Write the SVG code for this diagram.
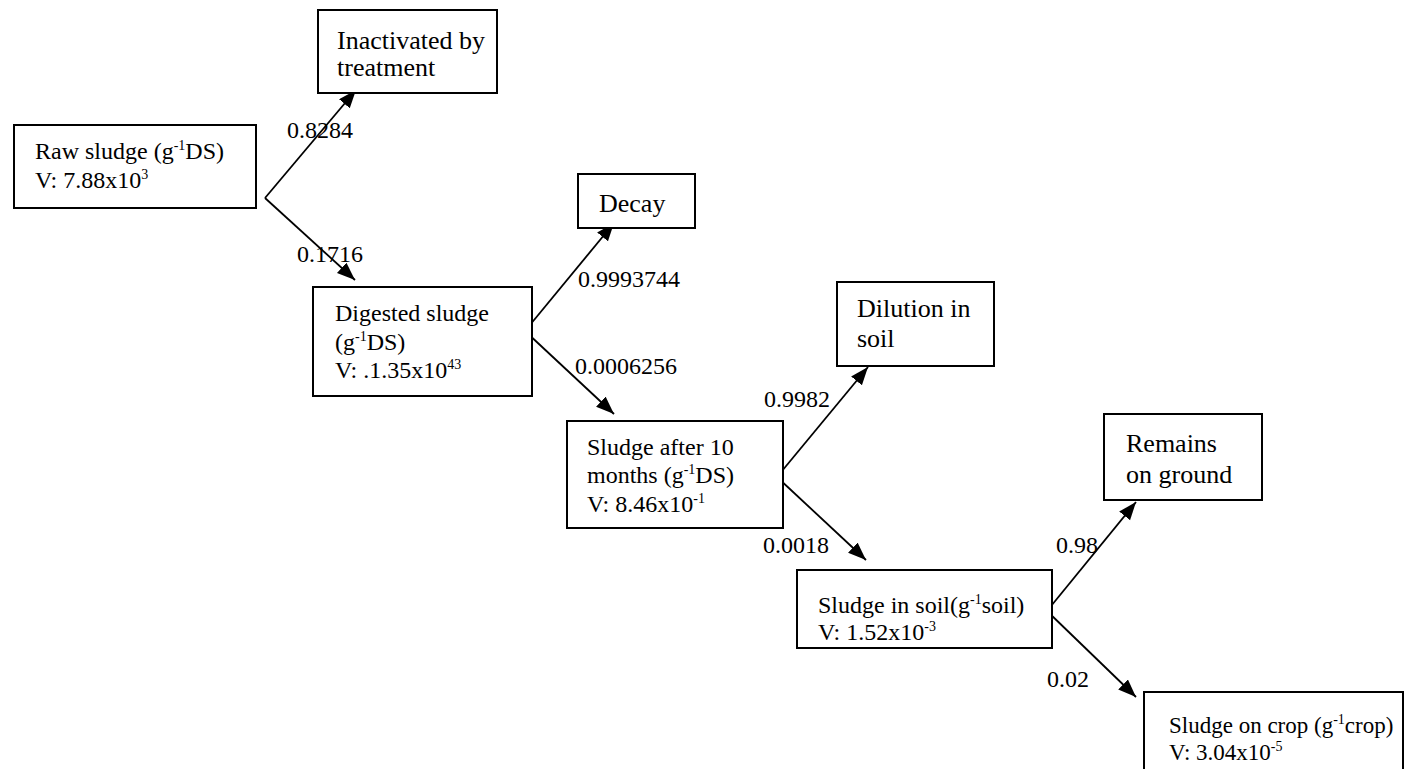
<svg xmlns="http://www.w3.org/2000/svg" width="1405" height="769" viewBox="0 0 1405 769">
<style>
.box{fill:#fff;stroke:#000;stroke-width:2}
.t{font-family:"Liberation Serif","Times New Roman",serif;font-size:24px;fill:#000}
.tl{font-family:"Liberation Serif","Times New Roman",serif;font-size:26px;fill:#000}
.ts{font-family:"Liberation Serif","Times New Roman",serif;font-size:23px;fill:#000}
.sup{font-size:14px}
.edge{stroke:#000;stroke-width:1.8;fill:none}
</style>
<defs>
<marker id="arr" markerUnits="userSpaceOnUse" markerWidth="20" markerHeight="16" refX="18" refY="7" orient="auto">
<path d="M0,0 L18,7 L0,14 z" fill="#000"/>
</marker>
</defs>
<rect width="1405" height="769" fill="#fff"/>
<g id="connectors">
<path class="edge" d="M265,198 L356,90" marker-end="url(#arr)"/>
<path class="edge" d="M265,198 L355,280" marker-end="url(#arr)"/>
<path class="edge" d="M525,331 L614,223" marker-end="url(#arr)"/>
<path class="edge" d="M525,331 L614,414" marker-end="url(#arr)"/>
<path class="edge" d="M777,477 L868,367" marker-end="url(#arr)"/>
<path class="edge" d="M777,477 L866,560" marker-end="url(#arr)"/>
<path class="edge" d="M1047,611 L1136,502" marker-end="url(#arr)"/>
<path class="edge" d="M1047,611 L1136,697" marker-end="url(#arr)"/>
<text class="t" x="287" y="138">0.8284</text>
<text class="t" x="297" y="262">0.1716</text>
<text class="t" x="578" y="287">0.9993744</text>
<text class="t" x="575" y="374">0.0006256</text>
<text class="t" x="764" y="407">0.9982</text>
<text class="t" x="763" y="553">0.0018</text>
<text class="t" x="1056" y="553">0.98</text>
<text class="t" x="1047" y="687">0.02</text>
</g>
<g id="raw">
<rect class="box" x="14" y="125" width="242" height="83"/>
<text class="t" x="35" y="159">Raw sludge (g<tspan class="sup" dy="-9">-1</tspan><tspan dy="9">DS)</tspan></text>
<text class="t" x="35" y="188">V: 7.88x10<tspan class="sup" dy="-9">3</tspan></text>
</g>
<g id="inactivated">
<rect class="box" x="318" y="10" width="179" height="83"/>
<text class="tl" x="337" y="49">Inactivated by</text>
<text class="tl" x="337" y="76">treatment</text>
</g>
<g id="digested">
<rect class="box" x="313" y="287" width="219" height="109"/>
<text class="t" x="335" y="321">Digested sludge</text>
<text class="t" x="335" y="350">(g<tspan class="sup" dy="-9">-1</tspan><tspan dy="9">DS)</tspan></text>
<text class="t" x="335" y="378">V: .1.35x10<tspan class="sup" dy="-9">43</tspan></text>
</g>
<g id="decay">
<rect class="box" x="578" y="174" width="117" height="54"/>
<text class="tl" x="599" y="212">Decay</text>
</g>
<g id="after10">
<rect class="box" x="567" y="421" width="216" height="107"/>
<text class="t" x="587" y="455">Sludge after 10</text>
<text class="t" x="587" y="483">months (g<tspan class="sup" dy="-9">-1</tspan><tspan dy="9">DS)</tspan></text>
<text class="t" x="587" y="512">V: 8.46x10<tspan class="sup" dy="-9">-1</tspan></text>
</g>
<g id="dilution">
<rect class="box" x="837" y="282" width="157" height="84"/>
<text class="tl" x="857" y="317">Dilution in</text>
<text class="tl" x="857" y="347">soil</text>
</g>
<g id="insoil">
<rect class="box" x="797" y="570" width="255" height="78"/>
<text class="t" x="818" y="613">Sludge in soil(g<tspan class="sup" dy="-9">-1</tspan><tspan dy="9">soil)</tspan></text>
<text class="t" x="818" y="640">V: 1.52x10<tspan class="sup" dy="-9">-3</tspan></text>
</g>
<g id="remains">
<rect class="box" x="1104" y="414" width="158" height="86"/>
<text class="tl" x="1126" y="452">Remains</text>
<text class="tl" x="1126" y="483">on ground</text>
</g>
<g id="crop">
<rect class="box" x="1144" y="692" width="259" height="90"/>
<text class="ts" x="1169" y="733">Sludge on crop (g<tspan class="sup" dy="-9">-1</tspan><tspan dy="9">crop)</tspan></text>
<text class="ts" x="1169" y="760">V: 3.04x10<tspan class="sup" dy="-9">-5</tspan></text>
</g>
</svg>
